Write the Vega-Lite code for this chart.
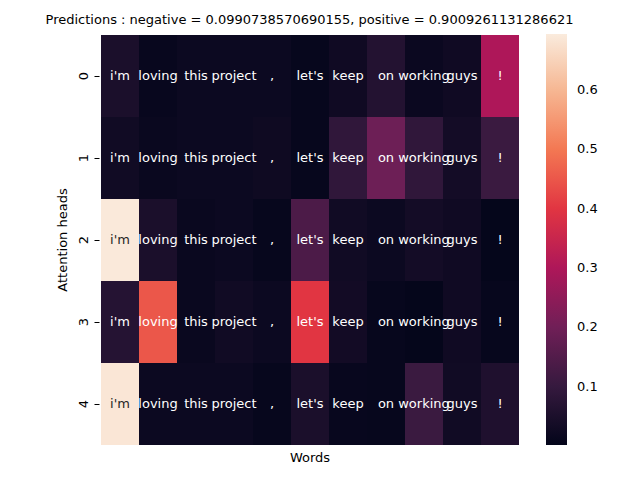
{
  "$schema": "https://vega.github.io/schema/vega-lite/v6.json",
  "autosize": "none",
  "padding": {"left": 99, "top": 34, "right": 120, "bottom": 35},
  "width": 421,
  "height": 411,
  "background": "white",
  "config": {
    "font": "DejaVu Sans",
    "view": {"stroke": null},
    "axis": {"labelFont": "DejaVu Sans", "titleFont": "DejaVu Sans", "labelColor": "black", "titleColor": "black", "titleFontWeight": "normal", "grid": false},
    "legend": {"labelFont": "DejaVu Sans"}
  },
  "title": {
    "text": "Predictions : negative = 0.0990738570690155, positive = 0.9009261131286621",
    "fontSize": 13,
    "fontWeight": "normal",
    "font": "DejaVu Sans",
    "color": "black",
    "anchor": "middle",
    "offset": 7
  },
  "data": {
    "values": [
      {"head": "0", "word": "i'm", "v": 0.05},
      {"head": "0", "word": "loving", "v": 0.012},
      {"head": "0", "word": "this", "v": 0.02},
      {"head": "0", "word": "project", "v": 0.02},
      {"head": "0", "word": ",", "v": 0.02},
      {"head": "0", "word": "let's", "v": 0.01},
      {"head": "0", "word": "keep", "v": 0.028},
      {"head": "0", "word": "on", "v": 0.065},
      {"head": "0", "word": "working", "v": 0.018},
      {"head": "0", "word": "guys", "v": 0.028},
      {"head": "0", "word": "!", "v": 0.3},
      {"head": "1", "word": "i'm", "v": 0.03},
      {"head": "1", "word": "loving", "v": 0.015},
      {"head": "1", "word": "this", "v": 0.02},
      {"head": "1", "word": "project", "v": 0.02},
      {"head": "1", "word": ",", "v": 0.025},
      {"head": "1", "word": "let's", "v": 0.01},
      {"head": "1", "word": "keep", "v": 0.09},
      {"head": "1", "word": "on", "v": 0.195},
      {"head": "1", "word": "working", "v": 0.09},
      {"head": "1", "word": "guys", "v": 0.035},
      {"head": "1", "word": "!", "v": 0.11},
      {"head": "2", "word": "i'm", "v": 0.69},
      {"head": "2", "word": "loving", "v": 0.05},
      {"head": "2", "word": "this", "v": 0.015},
      {"head": "2", "word": "project", "v": 0.02},
      {"head": "2", "word": ",", "v": 0.01},
      {"head": "2", "word": "let's", "v": 0.14},
      {"head": "2", "word": "keep", "v": 0.03},
      {"head": "2", "word": "on", "v": 0.02},
      {"head": "2", "word": "working", "v": 0.035},
      {"head": "2", "word": "guys", "v": 0.028},
      {"head": "2", "word": "!", "v": 0.005},
      {"head": "3", "word": "i'm", "v": 0.07},
      {"head": "3", "word": "loving", "v": 0.45},
      {"head": "3", "word": "this", "v": 0.015},
      {"head": "3", "word": "project", "v": 0.03},
      {"head": "3", "word": ",", "v": 0.02},
      {"head": "3", "word": "let's", "v": 0.4},
      {"head": "3", "word": "keep", "v": 0.033},
      {"head": "3", "word": "on", "v": 0.01},
      {"head": "3", "word": "working", "v": 0.006},
      {"head": "3", "word": "guys", "v": 0.028},
      {"head": "3", "word": "!", "v": 0.01},
      {"head": "4", "word": "i'm", "v": 0.685},
      {"head": "4", "word": "loving", "v": 0.02},
      {"head": "4", "word": "this", "v": 0.02},
      {"head": "4", "word": "project", "v": 0.02},
      {"head": "4", "word": ",", "v": 0.01},
      {"head": "4", "word": "let's", "v": 0.05},
      {"head": "4", "word": "keep", "v": 0.012},
      {"head": "4", "word": "on", "v": 0.01},
      {"head": "4", "word": "working", "v": 0.11},
      {"head": "4", "word": "guys", "v": 0.03},
      {"head": "4", "word": "!", "v": 0.057}
    ]
  },
  "encoding": {
    "x": {
      "field": "word", "type": "nominal",
      "sort": ["i'm", "loving", "this", "project", ",", "let's", "keep", "on", "working", "guys", "!"],
      "scale": {"paddingInner": 0, "paddingOuter": 0, "round": true},
      "axis": {"labels": false, "ticks": false, "domain": false, "grid": false, "title": "Words", "titleFontSize": 13, "titlePadding": 6}
    },
    "y": {
      "field": "head", "type": "nominal",
      "sort": ["0", "1", "2", "3", "4"],
      "scale": {"paddingInner": 0, "paddingOuter": 0, "round": true},
      "axis": {"title": "Attention heads", "titleFontSize": 13, "labelFontSize": 13, "labelAngle": -90, "labelAlign": "center", "labelBaseline": "bottom", "labelPadding": 4, "tickSize": 5, "tickColor": "black", "domain": false, "grid": false, "titlePadding": 8}
    }
  },
  "layer": [
    {
      "mark": {"type": "rect", "strokeWidth": 0},
      "encoding": {
        "color": {
          "field": "v", "type": "quantitative",
          "scale": {"domain": [0.002, 0.694], "range": ["#03051a", "#35193e", "#701f57", "#ad1759", "#e13342", "#f37651", "#f6b48f", "#faebdd"], "interpolate": "rgb"},
          "legend": {
            "title": null,
            "orient": "right",
            "offset": 26,
            "padding": 0,
            "direction": "vertical",
            "gradientLength": 411,
            "gradientThickness": 21,
            "gradientStrokeWidth": 0,
            "values": [0.1, 0.2, 0.3, 0.4, 0.5, 0.6],
            "labelFontSize": 13,
            "labelColor": "black",
            "labelOverlap": false,
            "labelOffset": 10
          }
        }
      }
    },
    {
      "mark": {"type": "text", "fontSize": 13, "font": "DejaVu Sans"},
      "encoding": {
        "text": {"field": "word"},
        "color": {
          "condition": {"test": "datum.v > 0.55", "value": "#262626"},
          "value": "white"
        }
      }
    }
  ]
}
